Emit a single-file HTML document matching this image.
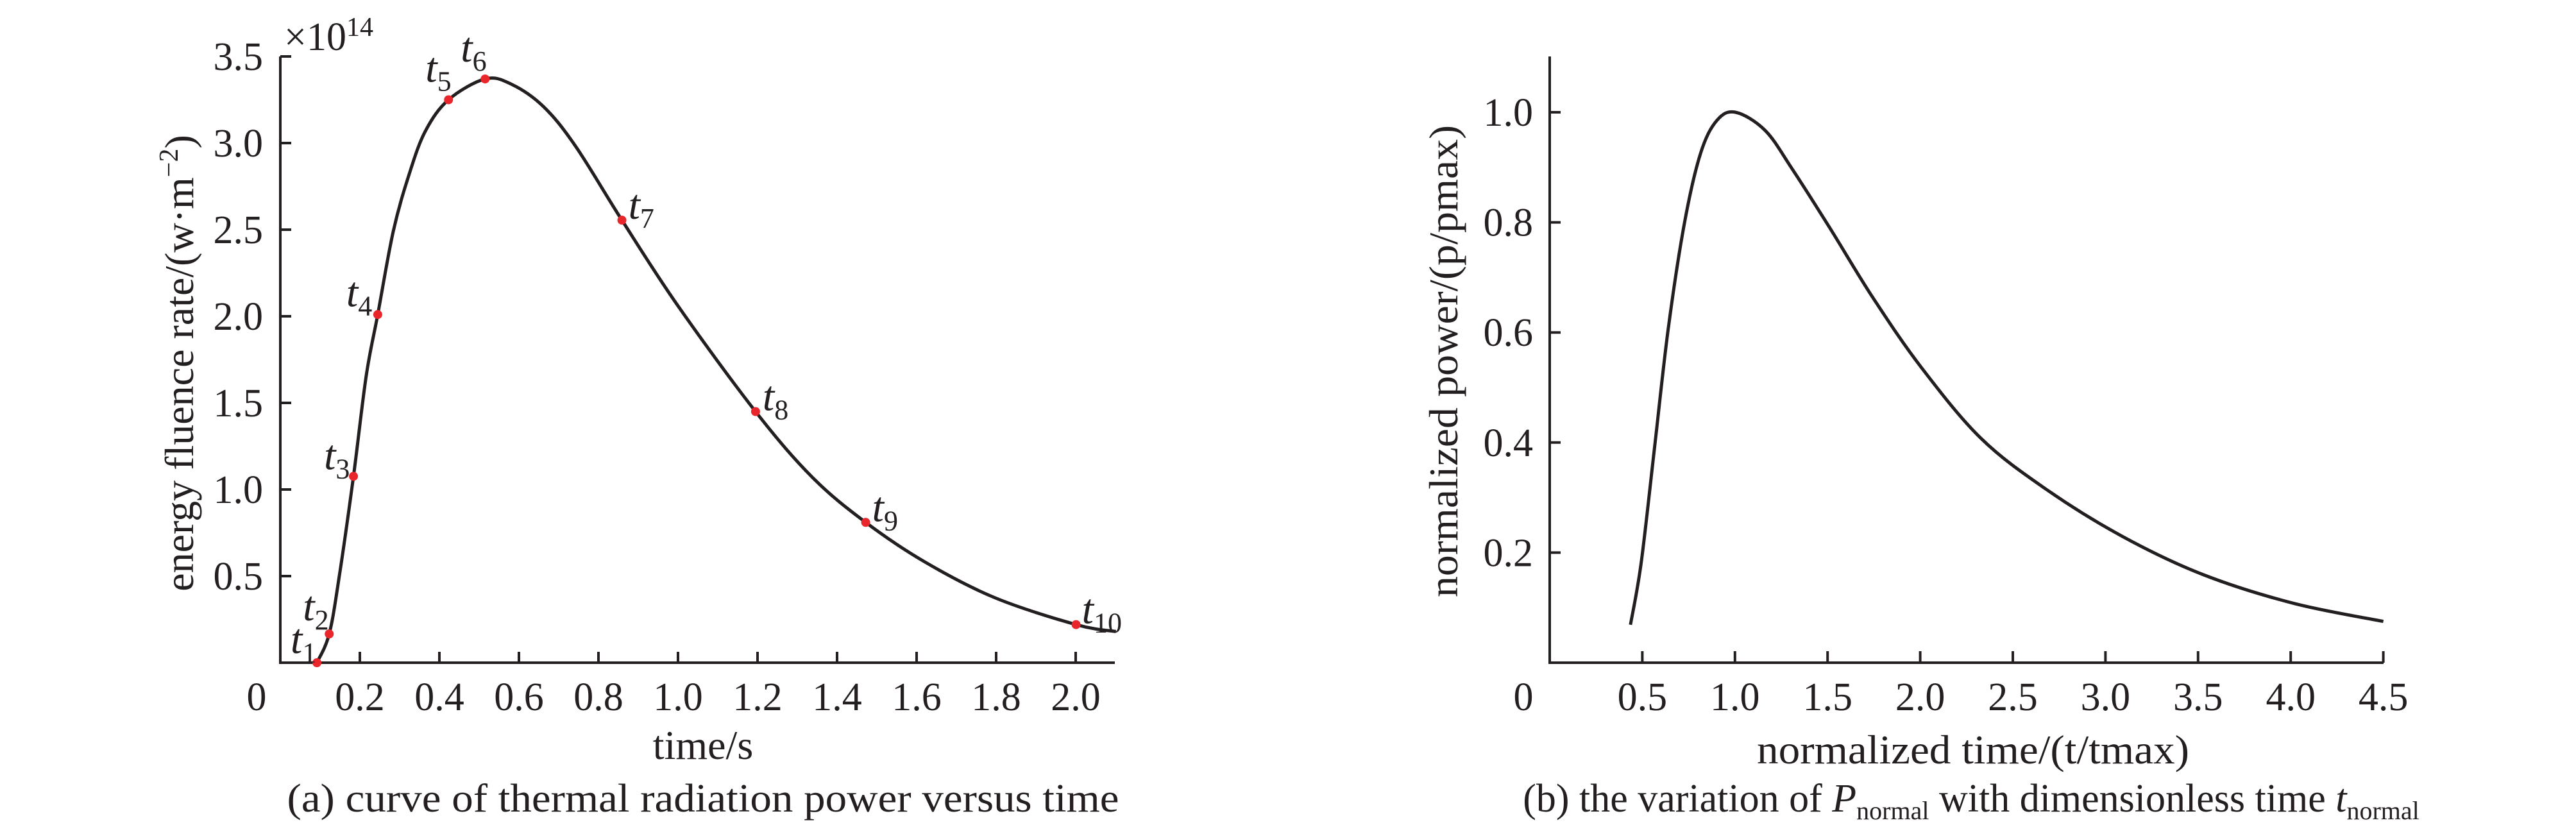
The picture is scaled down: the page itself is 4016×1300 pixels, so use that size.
<!DOCTYPE html>
<html><head><meta charset="utf-8"><style>
html,body{margin:0;padding:0;background:#fff;}
svg{display:block;font-family:"Liberation Serif",serif;}
</style></head><body>
<svg id="fig" width="4016" height="1300" viewBox="0 0 4016 1300" xmlns="http://www.w3.org/2000/svg">
<g id="pa"></g>
<g id="pb"></g>
</svg>
<script>
// ----- Panel (a) data -----
const aXTicks = [0.2,0.4,0.6,0.8,1.0,1.2,1.4,1.6,1.8,2.0];
const aXTickLabels = ["0.2","0.4","0.6","0.8","1.0","1.2","1.4","1.6","1.8","2.0"];
const aYTicks = [0.5,1.0,1.5,2.0,2.5,3.0,3.5];
const aYTickLabels = ["0.5","1.0","1.5","2.0","2.5","3.0","3.5"];
const aCurveT = [0.092,0.123,0.149,0.184,0.216,0.245,0.284,0.324,0.365,0.423,0.515,0.581,0.662,0.743,0.859,1.0,1.195,1.338,1.472,1.622,1.797,2.001,2.101];
const aCurveV = [0.0,0.166,0.51,1.076,1.656,2.01,2.49,2.82,3.07,3.25,3.37,3.34,3.21,2.98,2.555,2.06,1.45,1.07,0.81,0.58,0.375,0.22,0.18];
const aPointT = [0.092,0.123,0.184,0.245,0.423,0.515,0.859,1.195,1.472,2.001];
const aPointV = [0.0,0.166,1.076,2.01,3.25,3.37,2.555,1.45,0.81,0.22];
const aPointNames = ["1","2","3","4","5","6","7","8","9","10"];
// ----- Panel (b) data -----
const bXTicks = [0.5,1.0,1.5,2.0,2.5,3.0,3.5,4.0,4.5];
const bXTickLabels = ["0.5","1.0","1.5","2.0","2.5","3.0","3.5","4.0","4.5"];
const bYTicks = [0.2,0.4,0.6,0.8,1.0];
const bYTickLabels = ["0.2","0.4","0.6","0.8","1.0"];
const bCurveX = [0.436,0.494,0.567,0.64,0.727,0.814,0.902,1.003,1.163,1.309,1.512,1.745,2.007,2.327,2.676,3.083,3.52,4.014,4.5];
const bCurveY = [0.069,0.182,0.394,0.607,0.798,0.925,0.985,1.0,0.967,0.897,0.79,0.663,0.536,0.408,0.316,0.231,0.161,0.108,0.075];

const NS="http://www.w3.org/2000/svg";
function mk(parent,tag,attrs){const e=document.createElementNS(NS,tag);for(const k in attrs)e.setAttribute(k,attrs[k]);parent.appendChild(e);return e;}
function smooth(pts){let d="M"+pts[0][0]+","+pts[0][1];
 for(let i=0;i<pts.length-1;i++){const p0=pts[i-1]||pts[i],p1=pts[i],p2=pts[i+1],p3=pts[i+2]||p2;
  const c1=[p1[0]+(p2[0]-p0[0])/6,p1[1]+(p2[1]-p0[1])/6],c2=[p2[0]-(p3[0]-p1[0])/6,p2[1]-(p3[1]-p1[1])/6];
  d+=" C"+c1[0]+","+c1[1]+" "+c2[0]+","+c2[1]+" "+p2[0]+","+p2[1];}
 return d;}

// ----- Panel (a) -----
(function(){
const g=document.getElementById('pa');
const X0=437,Y0=1033,XS=620,YS=270,XEND=1738,YTOP=88;
const xs=v=>X0+v*XS, ys=v=>Y0-v*YS;
let e=mk(g,'path',{d:`M${X0},${YTOP} V${Y0} H${XEND}`,fill:'none',stroke:'#231f20','stroke-width':4});


aXTicks.forEach((v,i)=>{
 e=mk(g,'line',{x1:xs(v),x2:xs(v),y1:Y0,y2:Y0-17,stroke:'#231f20','stroke-width':4});
 
 
 e=mk(g,'text',{x:xs(v),y:1107,'font-size':62,'text-anchor':'middle',fill:'#231f20'});e.textContent=aXTickLabels[i];
 
 
});
aYTicks.forEach((v,i)=>{
 e=mk(g,'line',{x1:X0,x2:X0+17,y1:ys(v),y2:ys(v),stroke:'#231f20','stroke-width':4});
 
 
 e=mk(g,'text',{x:410,y:ys(v)+21,'font-size':62,'text-anchor':'end',fill:'#231f20'});e.textContent=aYTickLabels[i];
 
 
});
e=mk(g,'text',{x:400,y:1107,'font-size':62,'text-anchor':'middle',fill:'#231f20'});e.textContent='0';


e=mk(g,'text',{x:443,y:78,'font-size':62,fill:'#231f20'});e.innerHTML='×10<tspan font-size="42" dy="-22">14</tspan>';


e=mk(g,'path',{d:smooth(aCurveT.map((t,i)=>[xs(t),ys(aCurveV[i])])),fill:'none',stroke:'#231f20','stroke-width':5});


const offs=[[-41,-15],[-41,-21],[-46,-11],[-49,-13],[-36,-28],[-38,-27],[10,-2],[11,-2],[10,-2],[9,-2]];
aPointT.forEach((t,i)=>{
 e=mk(g,'circle',{cx:xs(t),cy:ys(aPointV[i]),r:7,fill:'#e8262b'});
 
 
 e=mk(g,'text',{x:xs(t)+offs[i][0],y:ys(aPointV[i])+offs[i][1],'font-size':66,'font-style':'italic',fill:'#231f20'});
 e.innerHTML='t<tspan font-style="normal" font-size="44" dy="14">'+aPointNames[i]+'</tspan>';
 
 
});
e=mk(g,'text',{x:0,y:0,'font-size':64,'text-anchor':'middle',fill:'#231f20',transform:'translate(301,566) rotate(-90)'});
e.innerHTML='energy fluence rate/(w·m<tspan font-size="42" dy="-24">−2</tspan><tspan dy="24">)</tspan>';


e=mk(g,'text',{x:1096,y:1183,'font-size':64,'text-anchor':'middle',fill:'#231f20'});e.textContent='time/s';


e=mk(g,'text',{x:1096,y:1265,'font-size':62,'text-anchor':'middle',fill:'#231f20',textLength:1297,lengthAdjust:'spacingAndGlyphs'});e.textContent='(a) curve of thermal radiation power versus time';


})();

// ----- Panel (b) -----
(function(){
const g=document.getElementById('pb');
const X0=2416,Y0=1033,XS=288.8,YS=858,XEND=3716,YTOP=88;
const xs=v=>X0+v*XS, ys=v=>Y0-v*YS;
let e=mk(g,'path',{d:`M${X0},${YTOP} V${Y0} H${XEND}`,fill:'none',stroke:'#231f20','stroke-width':4});


bXTicks.forEach((v,i)=>{
 e=mk(g,'line',{x1:xs(v),x2:xs(v),y1:Y0,y2:Y0-18,stroke:'#231f20','stroke-width':4});
 
 
 e=mk(g,'text',{x:xs(v),y:1107,'font-size':62,'text-anchor':'middle',fill:'#231f20'});e.textContent=bXTickLabels[i];
 
 
});
bYTicks.forEach((v,i)=>{
 e=mk(g,'line',{x1:X0,x2:X0+17,y1:ys(v),y2:ys(v),stroke:'#231f20','stroke-width':4});
 
 
 e=mk(g,'text',{x:2390,y:ys(v)+21,'font-size':62,'text-anchor':'end',fill:'#231f20'});e.textContent=bYTickLabels[i];
 
 
});
e=mk(g,'text',{x:2375,y:1107,'font-size':62,'text-anchor':'middle',fill:'#231f20'});e.textContent='0';


e=mk(g,'path',{d:smooth(bCurveX.map((t,i)=>[xs(t),ys(bCurveY[i])])),fill:'none',stroke:'#231f20','stroke-width':5});


e=mk(g,'text',{x:0,y:0,'font-size':64,'text-anchor':'middle',fill:'#231f20',transform:'translate(2272,563) rotate(-90)',textLength:736,lengthAdjust:'spacingAndGlyphs'});
e.textContent='normalized power/(p/pmax)';


e=mk(g,'text',{x:3076,y:1190,'font-size':64,'text-anchor':'middle',fill:'#231f20',textLength:674,lengthAdjust:'spacingAndGlyphs'});e.textContent='normalized time/(t/tmax)';


e=mk(g,'text',{x:3073,y:1265,'font-size':62,'text-anchor':'middle',fill:'#231f20'});
e.innerHTML='(b) the variation of <tspan font-style="italic">P</tspan><tspan font-size="40" dy="12">normal</tspan><tspan dy="-12"> with dimensionless time </tspan><tspan font-style="italic">t</tspan><tspan font-size="40" dy="12">normal</tspan>';


})();
</script>
</body></html>
